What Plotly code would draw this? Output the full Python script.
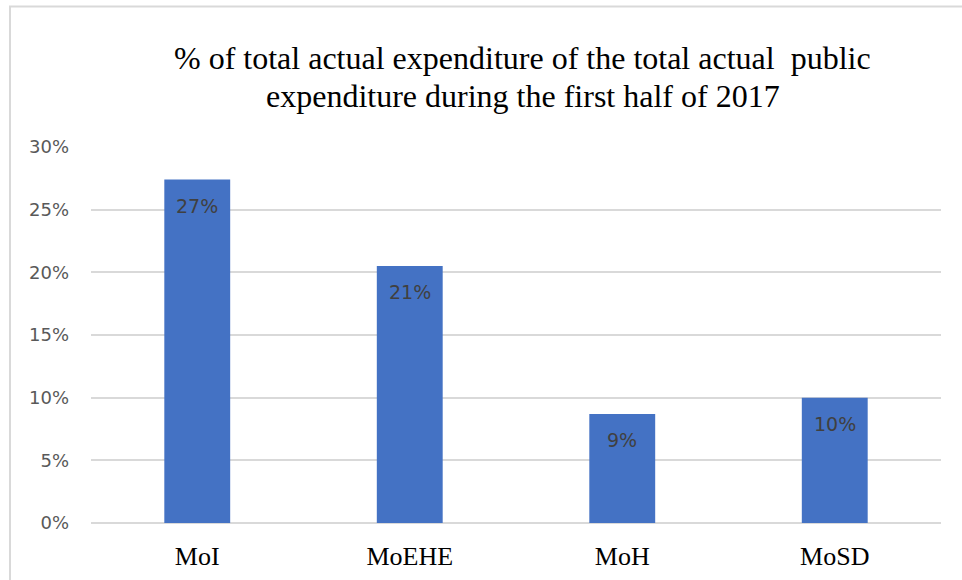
import plotly.graph_objects as go

categories = ["MoI", "MoEHE", "MoH", "MoSD"]
values = [0.274, 0.205, 0.087, 0.100]
labels = ["27%", "21%", "9%", "10%"]
tick_vals = [0, 0.05, 0.10, 0.15, 0.20, 0.25, 0.30]
tick_text = ["0%", "5%", "10%", "15%", "20%", "25%", "30%"]
title_lines = ["% of total actual expenditure of the total actual  public",
               "expenditure during the first half of 2017"]

W, H = 962, 580
ml, mr, mt, mb = 91, 21, 147, 57
pw, ph = W - ml - mr, H - mt - mb

def px(x):
    return (x - ml) / pw

def py(y):
    return (H - mb - y) / ph

fig = go.Figure(go.Bar(
    x=categories, y=values,
    marker=dict(color="#4472C4", line=dict(width=0)),
    cliponaxis=False, hoverinfo="skip",
))

for c, v, t in zip(categories, values, labels):
    fig.add_annotation(x=c, y=v, text=t, showarrow=False,
                       xanchor="center", yanchor="middle", yshift=-26,
                       font=dict(family="DejaVu Sans", size=19, color="#404040"))

for line, yc in zip(title_lines, [57.5, 96.5]):
    fig.add_annotation(xref="paper", yref="paper", x=px(522.5), y=py(yc),
                       text=line, showarrow=False,
                       xanchor="center", yanchor="middle",
                       font=dict(family="Liberation Serif", size=32, color="#000000"))

fig.update_layout(
    width=W, height=H,
    margin=dict(l=ml, r=mr, t=mt, b=mb, autoexpand=False),
    paper_bgcolor="white", plot_bgcolor="white",
    bargap=0.69,
    showlegend=False,
    xaxis=dict(showgrid=False, showline=False, ticks="", automargin=False,
               tickfont=dict(family="Liberation Serif", size=26, color="#000000"),
               ticklabelstandoff=15),
    yaxis=dict(range=[0, 0.30], tickvals=tick_vals, ticktext=tick_text,
               automargin=False,
               showgrid=True, gridcolor="#d9d9d9", gridwidth=1.5,
               zeroline=True, zerolinecolor="#d9d9d9", zerolinewidth=1.5,
               showline=False, ticks="",
               tickfont=dict(family="DejaVu Sans", size=18, color="#595959"),
               ticklabelstandoff=21),
    shapes=[
        dict(type="line", xref="paper", yref="paper",
             x0=px(9), x1=px(962), y0=py(6.5), y1=py(6.5),
             line=dict(color="#d9d9d9", width=2)),
        dict(type="line", xref="paper", yref="paper",
             x0=px(10), x1=px(10), y0=py(6.5), y1=py(580),
             line=dict(color="#d9d9d9", width=2)),
    ],
)

fig.write_html("out.html")
